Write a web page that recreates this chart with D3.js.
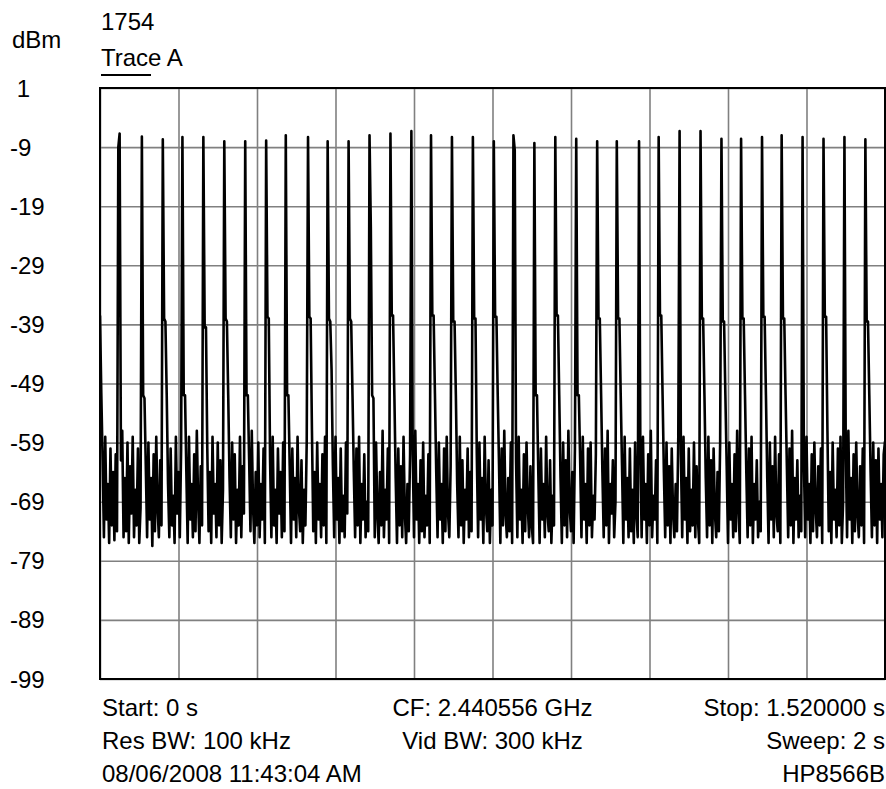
<!DOCTYPE html>
<html><head><meta charset="utf-8">
<script src="https://cdn.jsdelivr.net/npm/d3@7"></script>
<style>
body{margin:0;background:#fff}
text{font-family:"Liberation Sans",Arial,sans-serif;font-size:24px;fill:#000}
</style></head>
<body><svg id="c" width="886" height="789"></svg>
<script>
// Trace A, dBm, 601 sweep points from 0 s to 1.52 s
const trace = [
-37.5,-50.7,-62,-75,-58,-72,-66,-76,-60,-73,-64,-75.5,-61,-74,-9,
-6.7,-62,-57,-75,-65,-74,-59,-76,-63,-71,-58,-75,-67,-73,-60,-76,-70,
-7.2,-51,-51.5,-63,-75,-59,-72,-65,-76.5,-61,-74,-58,-70,-75,-62,-73,
-7.7,-38,-38.5,-51,-66,-75,-60,-73,-68,-76,-58,-71,-64,-75,-60,
-7.3,-51,-51,-64,-76,-58,-72,-66,-75,-61,-74,-57,-69,-76,-63,-73,
-7.3,-39.5,-39.5,-60,-74,-64,-76,-58,-71,-66,-75,-59,-73,-62,-76,-67,
-8,-38,-38.5,-51,-65,-75,-59,-72,-61,-76,-67,-73,-58,-75,-63,-71,
-8,-51,-51,-62,-74,-57,-70,-76,-64,-73,-59,-75,-66,-72,-60,-76,
-7.9,-37.7,-38,-62,-75,-58,-73,-67,-76,-60,-71,-64,-75,-59,-74,
-7,-51,-51,-63,-76,-60,-72,-65,-75,-58,-70,-74,-62,-76,-67,-73,-59,
-7.3,-37.7,-38,-57,-74,-64,-76,-59,-72,-66,-75,-61,-73,-58,-76,
-8,-38,-38.5,-46.7,-63,-75,-58,-72,-65,-76,-60,-74,-68,-75,-59,-71,
-8,-38,-38.5,-51,-64,-75,-60,-73,-58,-76,-66,-72,-61,-75,-69,-74,
-7,-22.5,-51,-51.5,-75,-59,-71,-76,-64,-73,-57,-75,-67,-72,-60,-76,
-6.7,-37.5,-37.5,-51,-65,-76,-60,-73,-63,-75,-58,-71,-76,-66,-74,-61,
-6.3,-60,-75,-57,-72,-66,-76,-62,-74,-59,-75,-68,-73,-61,-76,
-7,-37.5,-37.5,-50.7,-64,-75,-59,-72,-66,-76,-60,-74,-58,-71,-75,-63,
-7.3,-38.5,-38.5,-51,-66,-75,-58,-73,-62,-76,-67,-72,-60,-75,-64,-74,
-7.3,-38,-38,-61,-75,-59,-72,-65,-76,-58,-70,-74,-62,-76,-67,-73,
-8,-37.7,-37.7,-51,-63,-76,-60,-73,-57,-71,-75,-65,-74,-59,-76,
-7,-9.5,-62,-75,-58,-72,-67,-76,-61,-74,-59,-70,-75,-63,-73,-76,
-8.3,-51,-51,-64,-76,-60,-72,-66,-75,-58,-71,-74,-62,-76,-68,-73,
-7.3,-37.5,-37.5,-51,-65,-76,-59,-73,-62,-75,-57,-70,-74,-64,-76,-60,
-7.6,-51,-51,-62,-75,-58,-72,-66,-76,-60,-73,-59,-75,-68,-72,-61,
-8,-38,-38,-50.7,-64,-75,-60,-73,-57,-76,-66,-71,-62,-75,-69,
-8,-38,-38,-51,-63,-76,-58,-72,-65,-75,-60,-74,-67,-76,-59,-71,-75,
-8,-60,-75,-58,-72,-66,-76,-61,-73,-57,-75,-68,-72,-62,-76,
-7.3,-37.5,-37.5,-51,-64,-75,-59,-73,-63,-76,-60,-71,-75,-66,-74,-58,
-6.3,-61,-75,-58,-72,-65,-76,-60,-74,-67,-73,-59,-75,-63,-72,-76,
-6.3,-38,-38,-51,-65,-75,-58,-73,-62,-76,-60,-71,-75,-64,-74,-59,
-7.6,-38.5,-38.5,-51,-63,-76,-59,-72,-66,-75,-61,-74,-57,-70,-76,
-7.6,-38,-38,-51,-64,-75,-60,-73,-58,-76,-66,-72,-62,-75,-69,-74,
-7.3,-37.7,-37.7,-51,-65,-76,-59,-72,-63,-75,-58,-71,-74,-61,-76,
-7,-38,-38,-51,-63,-75,-60,-73,-57,-76,-65,-72,-62,-75,-68,-74,
-7.3,-62,-75,-58,-72,-66,-76,-61,-74,-59,-70,-75,-63,-73,-60,-76,
-7.6,-37.7,-37.7,-57,-74,-64,-76,-59,-72,-67,-75,-60,-73,-58,-76,-69,
-7.3,-60,-75,-57,-72,-65,-76,-61,-74,-59,-71,-75,-63,-73,-60,-76,
-7.7,-38.5,-38.5,-51,-64,-75,-59,-73,-62,-76,-60,-72,-66,-75,-61,-58.8
];
const sweepStart = 0, sweepStop = 1.52;           // seconds
const refLevel = 1, bottomLevel = -99;             // dBm
const yTickValues = [1,-9,-19,-29,-39,-49,-59,-69,-79,-89,-99];
const xDivisions = [0,1,2,3,4,5,6,7,8,9,10];
const headerNumber = "1754";
const traceName = "Trace A";
const unitLabel = "dBm";
const footerLeft = ["Start: 0 s","Res BW: 100 kHz","08/06/2008 11:43:04 AM"];
const footerCenter = ["CF: 2.440556 GHz","Vid BW: 300 kHz"];
const footerRight = ["Stop: 1.520000 s","Sweep: 2 s","HP8566B"];

const L = 100, R = 885, T = 88, B = 679;
const svg = d3.select("#c");
const x = d3.scaleLinear().domain([sweepStart, sweepStop]).range([L, R]);
const y = d3.scaleLinear().domain([bottomLevel, refLevel]).range([B, T]);
const divX = d3.scaleLinear().domain([0, 10]).range([sweepStart, sweepStop]);

// grid
const gx = svg.append("g").attr("transform", `translate(0,${B})`)
  .call(d3.axisBottom(x).tickValues(xDivisions.map(divX)).tickSize(-(B - T)).tickFormat(""));
const gy = svg.append("g").attr("transform", `translate(${L},0)`)
  .call(d3.axisLeft(y).tickValues(yTickValues).tickSize(-(R - L)).tickFormat(""));
[gx, gy].forEach(g => {
  g.select(".domain").remove();
  g.selectAll(".tick line").attr("stroke", "#808080").attr("stroke-width", 1.6);
});

// trace
svg.append("clipPath").attr("id", "clip").append("rect")
  .attr("x", L).attr("y", T - 10).attr("width", R - L).attr("height", B - T + 10);
const n = trace.length;
const line = d3.line()
  .x((d, i) => x(sweepStart + i * (sweepStop - sweepStart) / (n - 1)))
  .y(d => y(d));
svg.append("path").datum(trace).attr("d", line)
  .attr("clip-path", "url(#clip)")
  .attr("fill", "none").attr("stroke", "#000").attr("stroke-width", 2.6)
  .attr("stroke-linejoin", "round");

// border
svg.append("rect").attr("x", L).attr("y", T).attr("width", R - L).attr("height", B - T)
  .attr("fill", "none").attr("stroke", "#000").attr("stroke-width", 2);

// y labels
svg.append("g").selectAll("text").data(yTickValues).join("text")
  .attr("x", 10).attr("y", d => y(d) + 8.5)
  .text(d => d >= 0 ? "\u00a0" + d : String(d));

// header
svg.append("text").attr("x", 101).attr("y", 30).text(headerNumber);
svg.append("text").attr("x", 12).attr("y", 48).text(unitLabel);
svg.append("text").attr("x", 101).attr("y", 66).text(traceName);
svg.append("line").attr("x1", 101).attr("x2", 151).attr("y1", 75).attr("y2", 75)
  .attr("stroke", "#000").attr("stroke-width", 2);

// footer
const rowY = [716, 749, 782];
footerLeft.forEach((t, i) => svg.append("text").attr("x", 102).attr("y", rowY[i]).text(t));
footerCenter.forEach((t, i) => svg.append("text").attr("x", (L + R) / 2).attr("y", rowY[i])
  .attr("text-anchor", "middle").text(t));
footerRight.forEach((t, i) => svg.append("text").attr("x", R).attr("y", rowY[i])
  .attr("text-anchor", "end").text(t));
</script></body></html>
